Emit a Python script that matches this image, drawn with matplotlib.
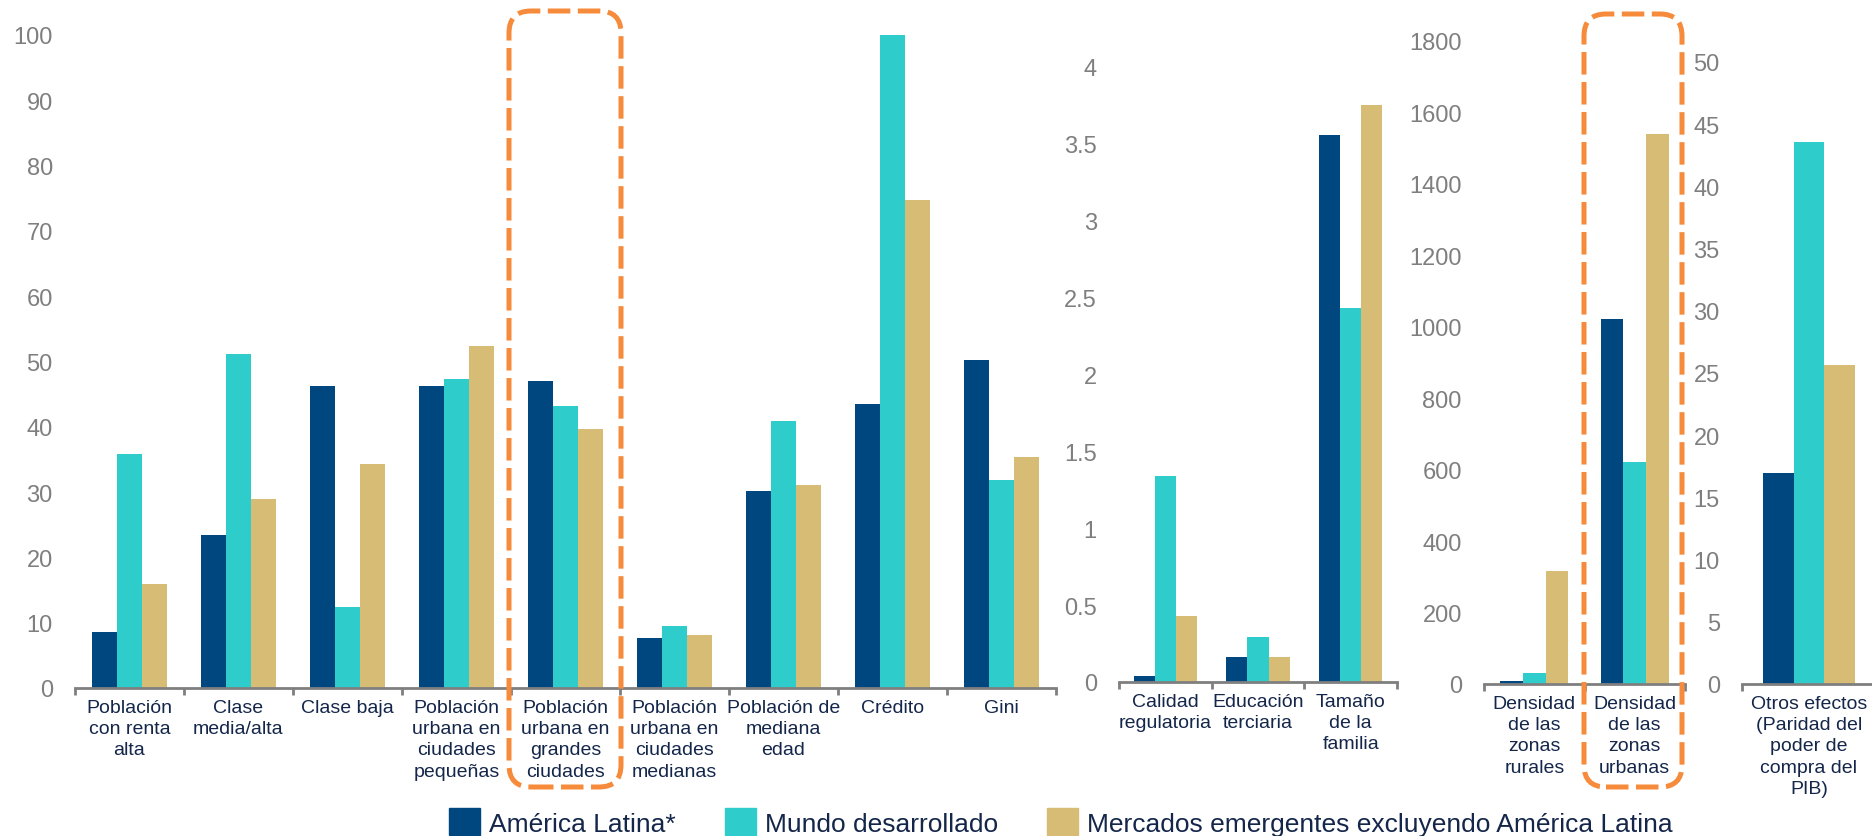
import numpy as np
import matplotlib
matplotlib.use("Agg")
import matplotlib.pyplot as plt
from matplotlib.patches import FancyBboxPatch, Patch

font = "Liberation Sans"

series = ["América Latina*", "Mundo desarrollado",
          "Mercados emergentes excluyendo América Latina"]
colors = ["#00467F", "#2ECCCB", "#D7BC76"]

# panel 1 (0-100)
cats1 = ["Población\ncon renta\nalta", "Clase\nmedia/alta", "Clase baja",
         "Población\nurbana en\nciudades\npequeñas",
         "Población\nurbana en\ngrandes\nciudades",
         "Población\nurbana en\nciudades\nmedianas",
         "Población de\nmediana\nedad", "Crédito", "Gini"]
latam1 = [8.5, 23.4, 46.2, 46.2, 47.0, 7.6, 30.2, 43.5, 50.3]
desarr1 = [35.8, 51.2, 12.4, 47.3, 43.2, 9.5, 40.9, 100.0, 31.9]
emerg1 = [16.0, 29.0, 34.3, 52.3, 39.6, 8.1, 31.1, 74.8, 35.3]

# panel 2 (0-4)
cats2 = ["Calidad\nregulatoria", "Educación\nterciaria", "Tamaño\nde la\nfamilia"]
latam2 = [0.04, 0.16, 3.56]
desarr2 = [1.34, 0.29, 2.43]
emerg2 = [0.43, 0.16, 3.75]

# panel 3 (0-1800)
cats3 = ["Densidad\nde las\nzonas\nrurales", "Densidad\nde las\nzonas\nurbanas"]
latam3 = [8, 1023]
desarr3 = [30, 622]
emerg3 = [316, 1540]

# panel 4 (0-50)
cats4 = ["Otros efectos\n(Paridad del\npoder de\ncompra del\nPIB)"]
latam4 = [17.0]
desarr4 = [43.55]
emerg4 = [25.65]

W, H = 1872, 837
fig = plt.figure(figsize=(W / 100, H / 100), dpi=100)

bw = 0.227
grey = "#7F7F7F"
textcol = "#14264A"


def px_rect(left, right, base, top):
    # pixel box -> figure fraction
    return [left / W, (H - base) / H, (right - left) / W, (base - top) / H]


def panel(rect, cats, vals, ylim, yticks):
    ax = fig.add_axes(rect)
    x = np.arange(len(cats))
    for i, (v, c) in enumerate(zip(vals, colors)):
        ax.bar(x + (i - 1) * bw, v, bw, color=c, zorder=2)
    ax.set_xlim(-0.5, len(cats) - 0.5)
    ax.set_ylim(*ylim)
    ax.set_yticks(yticks)
    ax.set_yticklabels(["{:g}".format(t) for t in yticks], family=font,
                       fontsize=17, color=grey)
    ax.tick_params(axis="y", length=0, pad=16)
    ax.set_xticks(x)
    ax.set_xticklabels(cats, family=font, fontsize=14, color=textcol,
                       linespacing=1.32, va="top")
    ax.tick_params(axis="x", which="major", length=0, pad=8)
    ax.set_xticks(np.arange(len(cats) + 1) - 0.5, minor=True)
    ax.tick_params(axis="x", which="minor", length=5, width=2, color=grey,
                   direction="out")
    for s in ["top", "right", "left"]:
        ax.spines[s].set_visible(False)
    ax.spines["bottom"].set_color(grey)
    ax.spines["bottom"].set_linewidth(2)
    ax.patch.set_alpha(0)
    return ax


panel(px_rect(75, 1056, 689, 36), cats1, [latam1, desarr1, emerg1],
      (0, 100), np.arange(0, 101, 10))
panel(px_rect(1119, 1397, 683, 683 - 4.4 * 153.75), cats2, [latam2, desarr2, emerg2],
      (0, 4.4), np.arange(0, 4.01, 0.5))
panel(px_rect(1484, 1685, 685, 42), cats3, [latam3, desarr3, emerg3],
      (0, 1800), np.arange(0, 1801, 200))
panel(px_rect(1742, 1876, 685, 63), cats4, [latam4, desarr4, emerg4],
      (0, 50), np.arange(0, 51, 5))

# highlighted categories (orange dashed rounded boxes)
for x0, x1, top in [(509, 621, 12), (1584, 1682, 15)]:
    box = FancyBboxPatch((x0 / 100, (H - 788) / 100), (x1 - x0) / 100, (788 - top) / 100,
                         boxstyle="round,pad=0,rounding_size=0.22",
                         transform=fig.dpi_scale_trans, fill=False,
                         ec="#F68B3C", lw=3.6, ls=(0, (4.5, 1.5)), zorder=10)
    fig.add_artist(box)

handles = [Patch(color=c) for c in colors]
fig.legend(handles, series, loc="center", bbox_to_anchor=(1061 / W, 1 - 823 / H),
           ncol=3, frameon=False, prop={"family": font, "size": 19},
           labelcolor=textcol, handlelength=1.17, handleheight=1.2,
           handletextpad=0.34, columnspacing=1.86, borderaxespad=0)

fig.savefig("out.png", dpi=100)
